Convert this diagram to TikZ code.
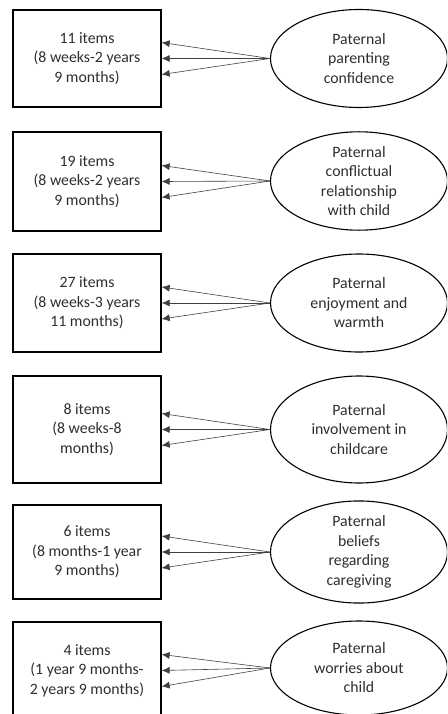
\documentclass[tikz,border=0pt]{standalone}
\usepackage{fontspec}
\setmainfont{Carlito}
\usetikzlibrary{shapes.geometric,arrows.meta}
\begin{document}
\begin{tikzpicture}[x=1pt,y=-1pt]
		\tikzstyle{itembox} = [rectangle, draw, line width=1.3pt, minimum width=148pt, inner sep=0pt, align=center, text=black!82, font=\fontsize{15.8}{19.5}\selectfont]
		\tikzstyle{factor} = [ellipse, draw, line width=1.1pt, minimum width=177pt, inner sep=0pt, align=center, text=black!82, font=\fontsize{15.8}{19.5}\selectfont]
		\tikzstyle{load} = [-{Latex[length=8pt,width=7pt]}, line width=0.6pt, black!75]

		\useasboundingbox (0,0) rectangle (447,714);
		\clip (0,0) rectangle (447,714);

		% Define the observed item boxes
		\node[itembox, minimum height=97pt] (B1) at (87,58.5) {11 items\\(8 weeks-2 years\\9 months)};
		\node[itembox, minimum height=99pt] (B2) at (87,181.5) {19 items\\(8 weeks-2 years\\9 months)};
		\node[itembox, minimum height=98pt] (B3) at (87,303) {27 items\\(8 weeks-3 years\\11 months)};
		\node[itembox, minimum height=107pt] (B4) at (87,429.5) {8 items\\(8 weeks-8\\months)};
		\node[itembox, minimum height=94pt] (B5) at (87,552) {6 items\\(8 months-1 year\\9 months)};
		\node[itembox, minimum height=97pt] (B6) at (87,670.5) {4 items\\(1 year 9 months-\\2 years 9 months)};

		% Define the latent factors
		\node[factor, minimum height=98pt] (F1) at (359,58.5) {Paternal\\parenting\\confidence};
		\node[factor, minimum height=98pt] (F2) at (359,181) {Paternal\\conflictual\\relationship\\with child};
		\node[factor, minimum height=98pt] (F3) at (359,303) {Paternal\\enjoyment and\\warmth};
		\node[factor, minimum height=107pt] (F4) at (359,429.5) {Paternal\\involvement in\\childcare};
		\node[factor, minimum height=94pt] (F5) at (359,552) {Paternal\\beliefs\\regarding\\caregiving};
		\node[factor, minimum height=94pt] (F6) at (359,668) {Paternal\\worries about\\child};

		% Draw the loadings
		\draw[load] (F1.west) -- ([yshift=16pt]B1.east);
		\draw[load] (F1.west) -- (B1.east);
		\draw[load] (F1.west) -- ([yshift=-16pt]B1.east);
		\draw[load] (F2.west) -- ([yshift=16pt]B2.east);
		\draw[load] (F2.west) -- (B2.east);
		\draw[load] (F2.west) -- ([yshift=-16pt]B2.east);
		\draw[load] (F3.west) -- ([yshift=16pt]B3.east);
		\draw[load] (F3.west) -- (B3.east);
		\draw[load] (F3.west) -- ([yshift=-16pt]B3.east);
		\draw[load] (F4.west) -- ([yshift=16pt]B4.east);
		\draw[load] (F4.west) -- (B4.east);
		\draw[load] (F4.west) -- ([yshift=-16pt]B4.east);
		\draw[load] (F5.west) -- ([yshift=16pt]B5.east);
		\draw[load] (F5.west) -- (B5.east);
		\draw[load] (F5.west) -- ([yshift=-16pt]B5.east);
		\draw[load] (F6.west) -- ([yshift=16pt]B6.east);
		\draw[load] (F6.west) -- (B6.east);
		\draw[load] (F6.west) -- ([yshift=-16pt]B6.east);

		\end{tikzpicture}
\end{document}
